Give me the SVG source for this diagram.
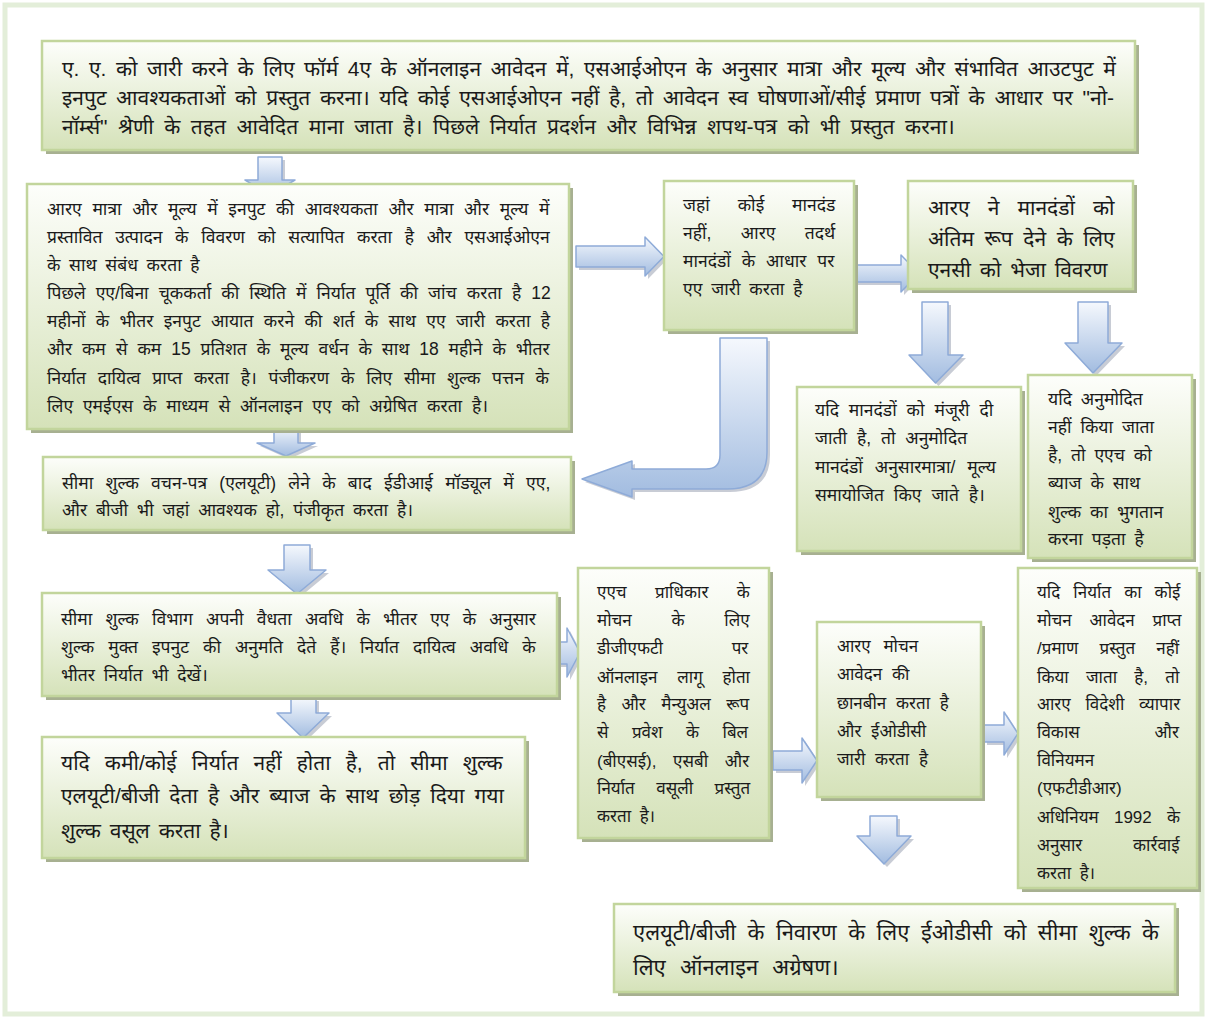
<svg xmlns="http://www.w3.org/2000/svg" width="1207" height="1019" viewBox="0 0 1207 1019">
<defs>
<linearGradient id="gBox" x1="0" y1="0" x2="0" y2="1">
<stop offset="0" stop-color="#fdfefb"/>
<stop offset="1" stop-color="#d5e2b9"/>
</linearGradient>
<linearGradient id="gArr" x1="0" y1="0" x2="0" y2="1">
<stop offset="0" stop-color="#f5f8fd"/>
<stop offset="1" stop-color="#a2bce0"/>
</linearGradient>
<style>
.frame{fill:none;stroke:#e3eed9;stroke-width:5}
.sh{fill:#a7b091}
.bx{fill:url(#gBox);stroke:#c2d59c;stroke-width:2.5}
.ash{fill:#9aa3b3;opacity:0.55}
.ar{fill:url(#gArr);stroke:#8eabd8;stroke-width:1.5;stroke-linejoin:round}
text{font-family:"Liberation Sans","Noto Sans","Noto Sans Devanagari","Lohit Devanagari",sans-serif;fill:#1a1a1a}
.s15{font-size:17.5px}
.s14{font-size:17px}
.s18{font-size:21px}
.s19{font-size:22px}
</style>
</defs>
<rect width="1207" height="1019" fill="#ffffff"/>
<rect class="frame" x="5" y="5" width="1197" height="1009"/>

<g id="connectors">
<g transform="translate(3,3)"><path class="ash" d="M258,157 H282 V180 H295 L270,195 L245,180 H258 Z"/></g>
<path class="ar" d="M258,157 H282 V180 H295 L270,195 L245,180 H258 Z"/>
<g transform="translate(3,3)"><path class="ash" d="M274,426 H298 V443 H315 L286,456 L257,443 H274 Z"/></g>
<path class="ar" d="M274,426 H298 V443 H315 L286,456 L257,443 H274 Z"/>
<g transform="translate(3,3)"><path class="ash" d="M284,545 H310 V570 H326 L297,594 L268,570 H284 Z"/></g>
<path class="ar" d="M284,545 H310 V570 H326 L297,594 L268,570 H284 Z"/>
<g transform="translate(3,3)"><path class="ash" d="M291,698 H316 V713 H329 L303,738 L277,713 H291 Z"/></g>
<path class="ar" d="M291,698 H316 V713 H329 L303,738 L277,713 H291 Z"/>
<g transform="translate(3,3)"><path class="ash" d="M576,246 H645 V237 L664,256.5 L645,276 V267 H576 Z"/></g>
<path class="ar" d="M576,246 H645 V237 L664,256.5 L645,276 V267 H576 Z"/>
<g transform="translate(3,3)"><path class="ash" d="M848,265 H901 V255 L919,273.5 L901,292 V282 H848 Z"/></g>
<path class="ar" d="M848,265 H901 V255 L919,273.5 L901,292 V282 H848 Z"/>
<g transform="translate(3,3)"><path class="ash" d="M720,338 H767 V452 Q767,489 727,489 H632 V497 L582,479 L632,461 V469 H706 Q720,469 720,455 Z"/></g>
<path class="ar" d="M720,338 H767 V452 Q767,489 727,489 H632 V497 L582,479 L632,461 V469 H706 Q720,469 720,455 Z"/>
<g transform="translate(3,3)"><path class="ash" d="M922,302 H948 V355 H963 L935.5,383 L909,355 H922 Z"/></g>
<path class="ar" d="M922,302 H948 V355 H963 L935.5,383 L909,355 H922 Z"/>
<g transform="translate(3,3)"><path class="ash" d="M1078,302 H1108 V343 H1122 L1093,373 L1065,343 H1078 Z"/></g>
<path class="ar" d="M1078,302 H1108 V343 H1122 L1093,373 L1065,343 H1078 Z"/>
<g transform="translate(3,3)"><path class="ash" d="M557,642 H567 V628 L580,652.5 L567,677 V664 H557 Z"/></g>
<path class="ar" d="M557,642 H567 V628 L580,652.5 L567,677 V664 H557 Z"/>
<g transform="translate(3,3)"><path class="ash" d="M773,751 H802 V738 L817,760.5 L802,783 V770 H773 Z"/></g>
<path class="ar" d="M773,751 H802 V738 L817,760.5 L802,783 V770 H773 Z"/>
<g transform="translate(3,3)"><path class="ash" d="M984,725 H1004 V712 L1018,733.5 L1004,755 V742 H984 Z"/></g>
<path class="ar" d="M984,725 H1004 V712 L1018,733.5 L1004,755 V742 H984 Z"/>
<g transform="translate(3,3)"><path class="ash" d="M870,816 H897 V836 H911 L884,864 L857,836 H870 Z"/></g>
<path class="ar" d="M870,816 H897 V836 H911 L884,864 L857,836 H870 Z"/>
</g>

<g id="n1">
<rect class="sh" x="46" y="45" width="1093" height="109"/>
<rect class="bx" x="42" y="41" width="1093" height="109"/>
<text class="s18"><tspan x="62" y="76" word-spacing="3.7">ए. ए. को जारी करने के लिए फॉर्म 4ए के ऑनलाइन आवेदन में, एसआईओएन के अनुसार मात्रा और मूल्य और संभावित आउटपुट में</tspan><tspan x="62" y="105" word-spacing="3.8">इनपुट आवश्यकताओं को प्रस्तुत करना। यदि कोई एसआईओएन नहीं है, तो आवेदन स्व घोषणाओं/सीई प्रमाण पत्रों के आधार पर "नो-</tspan><tspan x="62" y="134" word-spacing="4.7">नॉर्म्स" श्रेणी के तहत आवेदित माना जाता है। पिछले निर्यात प्रदर्शन और विभिन्न शपथ-पत्र को भी प्रस्तुत करना।</tspan></text>
</g>

<g id="n2">
<rect class="sh" x="31" y="188" width="542" height="245"/>
<rect class="bx" x="27" y="184" width="542" height="245"/>
<text class="s15"><tspan x="47" y="215" word-spacing="5.8">आरए मात्रा और मूल्य में इनपुट की आवश्यकता और मात्रा और मूल्य में</tspan><tspan x="47" y="243" word-spacing="7.8">प्रस्तावित उत्पादन के विवरण को सत्यापित करता है और एसआईओएन</tspan><tspan x="47" y="271" word-spacing="3.8">के साथ संबंध करता है</tspan><tspan x="47" y="299" word-spacing="5.2">पिछले एए/बिना चूककर्ता की स्थिति में निर्यात पूर्ति की जांच करता है 12</tspan><tspan x="47" y="327" word-spacing="5.4">महीनों के भीतर इनपुट आयात करने की शर्त के साथ एए जारी करता है</tspan><tspan x="47" y="355" word-spacing="5">और कम से कम 15 प्रतिशत के मूल्य वर्धन के साथ 18 महीने के भीतर</tspan><tspan x="47" y="384" word-spacing="6.9">निर्यात दायित्व प्राप्त करता है। पंजीकरण के लिए सीमा शुल्क पत्तन के</tspan><tspan x="47" y="412" word-spacing="5">लिए एमईएस के माध्यम से ऑनलाइन एए को अग्रेषित करता है।</tspan></text>
</g>

<g id="n3">
<rect class="sh" x="668" y="185" width="190" height="149"/>
<rect class="bx" x="664" y="181" width="190" height="149"/>
<text class="s15"><tspan x="683" y="211" word-spacing="23">जहां कोई मानदंड</tspan><tspan x="683" y="239" word-spacing="24.5">नहीं, आरए तदर्थ</tspan><tspan x="683" y="267" word-spacing="6">मानदंडों के आधार पर</tspan><tspan x="683" y="295" word-spacing="4">एए जारी करता है</tspan></text>
</g>

<g id="n4">
<rect class="sh" x="912" y="185" width="225" height="108"/>
<rect class="bx" x="908" y="181" width="225" height="108"/>
<text class="s18"><tspan x="928" y="215" word-spacing="12.2">आरए ने मानदंडों को</tspan><tspan x="928" y="246" word-spacing="4.7">अंतिम रूप देने के लिए</tspan><tspan x="928" y="277" word-spacing="3">एनसी को भेजा विवरण</tspan></text>
</g>

<g id="n5">
<rect class="sh" x="801" y="391" width="224" height="164"/>
<rect class="bx" x="797" y="387" width="224" height="164"/>
<text class="s15" word-spacing="5"><tspan x="815" y="416">यदि मानदंडों को मंजूरी दी</tspan><tspan x="815" y="444">जाती है, तो अनुमोदित</tspan><tspan x="815" y="473" word-spacing="7">मानदंडों अनुसारमात्रा/ मूल्य</tspan><tspan x="815" y="501">समायोजित किए जाते है।</tspan></text>
</g>

<g id="n6">
<rect class="sh" x="1032" y="379" width="164" height="183"/>
<rect class="bx" x="1028" y="375" width="164" height="183"/>
<text class="s15" word-spacing="4"><tspan x="1048" y="405">यदि अनुमोदित</tspan><tspan x="1048" y="433">नहीं किया जाता</tspan><tspan x="1048" y="461">है, तो एएच को</tspan><tspan x="1048" y="489">ब्याज के साथ</tspan><tspan x="1048" y="518">शुल्क का भुगतान</tspan><tspan x="1048" y="545">करना पड़ता है</tspan></text>
</g>

<g id="n7">
<rect class="sh" x="47" y="461" width="528" height="73"/>
<rect class="bx" x="43" y="457" width="528" height="73"/>
<text class="s15"><tspan x="62" y="489" word-spacing="7.4">सीमा शुल्क वचन-पत्र (एलयूटी) लेने के बाद ईडीआई मॉड्यूल में एए,</tspan><tspan x="62" y="516" word-spacing="4">और बीजी भी जहां आवश्यक हो, पंजीकृत करता है।</tspan></text>
</g>

<g id="n8">
<rect class="sh" x="46" y="597" width="515" height="103"/>
<rect class="bx" x="42" y="593" width="515" height="103"/>
<text class="s15"><tspan x="61" y="625" word-spacing="8.3">सीमा शुल्क विभाग अपनी वैधता अवधि के भीतर एए के अनुसार</tspan><tspan x="61" y="653" word-spacing="9.1">शुल्क मुक्त इपनुट की अनुमति देते हैं। निर्यात दायित्व अवधि के</tspan><tspan x="61" y="681" word-spacing="4">भीतर निर्यात भी देखें।</tspan></text>
</g>

<g id="n9">
<rect class="sh" x="46" y="741" width="483" height="121"/>
<rect class="bx" x="42" y="737" width="483" height="121"/>
<text class="s18"><tspan x="61" y="770" word-spacing="9.2">यदि कमी/कोई निर्यात नहीं होता है, तो सीमा शुल्क</tspan><tspan x="61" y="803" word-spacing="4.2">एलयूटी/बीजी देता है और ब्याज के साथ छोड़ दिया गया</tspan><tspan x="61" y="838" word-spacing="3">शुल्क वसूल करता है।</tspan></text>
</g>

<g id="n10">
<rect class="sh" x="582" y="572" width="191" height="270"/>
<rect class="bx" x="578" y="568" width="191" height="270"/>
<text class="s14"><tspan x="597" y="598" word-spacing="23.7">एएच प्राधिकार के</tspan><tspan x="597" y="626" word-spacing="35">मोचन के लिए</tspan><tspan x="597" y="654" word-spacing="64">डीजीएफटी पर</tspan><tspan x="597" y="683" word-spacing="15">ऑनलाइन लागू होता</tspan><tspan x="597" y="710" word-spacing="10.7">है और मैन्युअल रूप</tspan><tspan x="597" y="738" word-spacing="18.7">से प्रवेश के बिल</tspan><tspan x="597" y="767" word-spacing="12">(बीएसई), एसबी और</tspan><tspan x="597" y="794" word-spacing="16.7">निर्यात वसूली प्रस्तुत</tspan><tspan x="597" y="822" word-spacing="4">करता है।</tspan></text>
</g>

<g id="n11">
<rect class="sh" x="821" y="626" width="164" height="175"/>
<rect class="bx" x="817" y="622" width="164" height="175"/>
<text class="s14" word-spacing="5"><tspan x="837" y="652" word-spacing="8">आरए मोचन</tspan><tspan x="837" y="680">आवेदन की</tspan><tspan x="837" y="709">छानबीन करता है</tspan><tspan x="837" y="737">और ईओडीसी</tspan><tspan x="837" y="765">जारी करता है</tspan></text>
</g>

<g id="n12">
<rect class="sh" x="1022" y="572" width="179" height="320"/>
<rect class="bx" x="1018" y="568" width="179" height="320"/>
<text class="s14"><tspan x="1037" y="598" word-spacing="8.3">यदि निर्यात का कोई</tspan><tspan x="1037" y="626" word-spacing="13">मोचन आवेदन प्राप्त</tspan><tspan x="1037" y="654" word-spacing="16.5">/प्रमाण प्रस्तुत नहीं</tspan><tspan x="1037" y="683" word-spacing="12.5">किया जाता है, तो</tspan><tspan x="1037" y="710" word-spacing="10">आरए विदेशी व्यापार</tspan><tspan x="1037" y="738" word-spacing="70">विकास और</tspan><tspan x="1037" y="766">विनियमन</tspan><tspan x="1037" y="794">(एफटीडीआर)</tspan><tspan x="1037" y="823" word-spacing="10.5">अधिनियम 1992 के</tspan><tspan x="1037" y="851" word-spacing="46">अनुसार कार्रवाई</tspan><tspan x="1037" y="879" word-spacing="4">करता है।</tspan></text>
</g>

<g id="n13">
<rect class="sh" x="618" y="908" width="561" height="88"/>
<rect class="bx" x="614" y="904" width="561" height="88"/>
<text class="s19"><tspan x="633" y="940" word-spacing="5.4">एलयूटी/बीजी के निवारण के लिए ईओडीसी को सीमा शुल्क के</tspan><tspan x="633" y="975" word-spacing="8">लिए ऑनलाइन अग्रेषण।</tspan></text>
</g>
</svg>
